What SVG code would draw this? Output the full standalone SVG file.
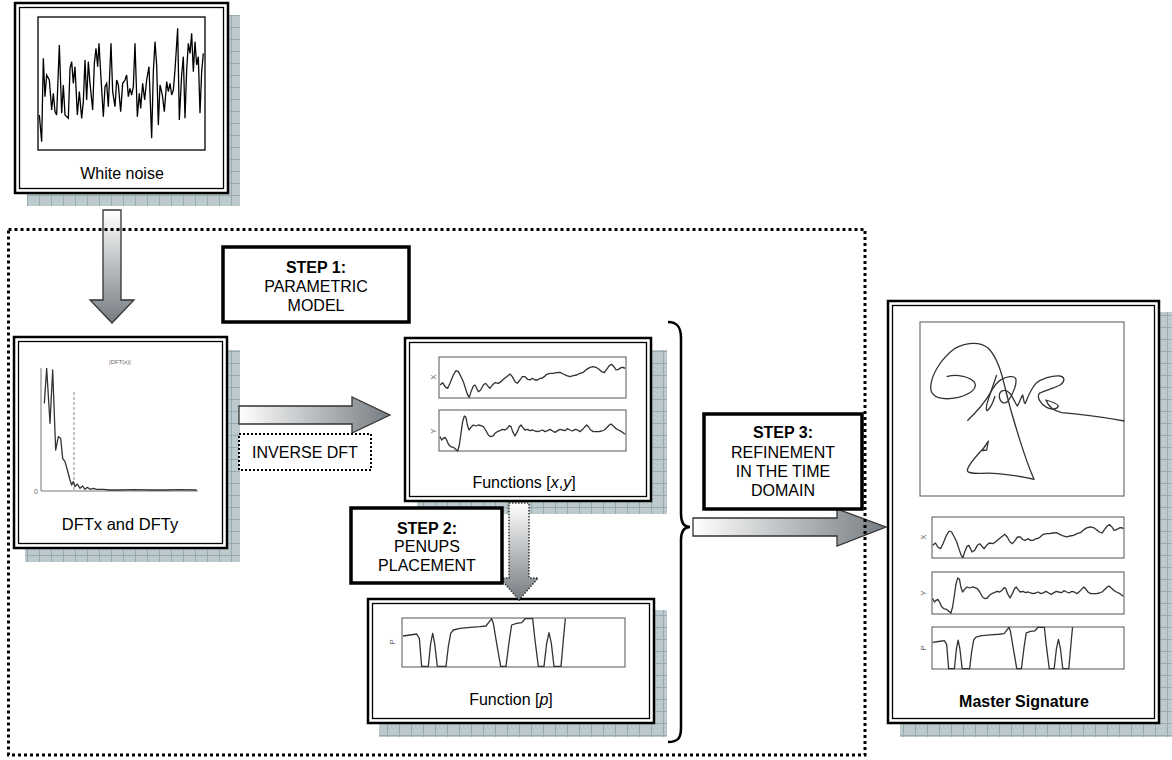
<svg xmlns="http://www.w3.org/2000/svg" width="1172" height="760" viewBox="0 0 1172 760">
<style>
.sh{fill:url(#grid)}
.ob{fill:#fff;stroke:#000;stroke-width:2.5}
.ib{fill:none;stroke:#000;stroke-width:1.3}
.pf{fill:none;stroke:#555;stroke-width:1}
.cv{fill:none;stroke:#333;stroke-width:1.3;vector-effect:non-scaling-stroke;stroke-linejoin:round}
.nz{fill:none;stroke:#000;stroke-width:1.3;vector-effect:non-scaling-stroke;stroke-linejoin:miter}
.t{font-family:"Liberation Sans",Arial,sans-serif;font-size:16px;text-anchor:middle;fill:#000}
.b{font-weight:bold}
.step{fill:#fff;stroke:#000;stroke-width:3.5}
.ax{font-family:"Liberation Sans",Arial,sans-serif;font-size:8px;fill:#666;text-anchor:middle}
.arr{stroke:#333;stroke-width:1.3;stroke-linejoin:miter}
</style>
<defs>
<pattern id="grid" width="12" height="12" patternUnits="userSpaceOnUse" x="3" y="3">
<rect width="12" height="12" fill="#bccacd"/>
<path d="M0 0.5H12M0.5 0V12" stroke="#9aabb0" stroke-width="1"/>
</pattern>
<linearGradient id="gv" x1="0" y1="0" x2="0" y2="1"><stop offset="0" stop-color="#ffffff"/><stop offset="1" stop-color="#757c81"/></linearGradient>
<linearGradient id="gh" x1="0" y1="0" x2="1" y2="0"><stop offset="0" stop-color="#ffffff"/><stop offset="1" stop-color="#757c81"/></linearGradient>
<path id="cx" class="cv" d="M135,165 L143,158 150,170 158,175 165,160 175,135 183,122 190,125 198,140 205,155 213,180 218,195 223,202 228,185 235,168 240,165 245,175 250,185 257,180 265,165 272,160 280,170 285,175 292,165 300,158 310,160 318,155 325,148 335,140 345,132 352,140 360,155 367,160 375,150 382,140 390,140 398,148 405,150 412,145 420,150 428,150 435,145 440,145 448,140 455,133 465,130 475,130 485,128 495,127 505,132 515,137 525,140 535,137 545,135 555,130 565,127 575,118 585,112 595,110 605,113 612,118 620,125 628,128 635,118 643,107 650,103 657,110 663,120 670,118 678,113 685,112 690,115"/>
<path id="cy" class="cv" d="M135,320 L140,330 145,325 150,322 155,330 160,342 167,350 175,352 182,358 188,363 193,345 198,310 203,275 208,258 213,262 217,285 222,300 228,292 235,285 243,288 250,285 258,287 265,290 272,300 280,315 287,320 294,318 300,310 307,305 315,302 322,298 330,300 337,295 343,287 348,290 353,305 360,318 367,305 373,290 378,285 383,292 390,300 398,298 405,302 413,300 420,303 428,305 435,303 442,300 450,305 458,302 465,298 473,303 480,307 488,302 495,298 502,300 510,302 517,296 525,300 532,303 540,298 547,300 555,305 563,298 570,290 575,285 580,290 587,300 595,305 603,305 612,305 620,303 628,300 635,293 643,285 648,282 655,288 662,295 670,300 680,305 690,313"/>
<path id="cp" class="cv" d="M489,408 L510,405 530,402 538,415 545,499 565,499 572,430 578,400 584,430 592,499 618,499 625,440 632,400 640,390 660,385 690,382 720,380 738,378 748,365 755,356 760,370 770,430 782,499 798,499 808,420 815,375 830,370 845,368 852,360 856,356 878,356 885,420 895,499 912,499 920,430 927,398 934,430 942,499 963,499 970,420 976,356"/>
</defs>
<rect width="1172" height="760" fill="#fff"/>

<g id="white-noise">
<rect class="sh" x="27" y="15" width="213" height="191"/>
<rect class="ob" x="15" y="3" width="213" height="190"/>
<rect class="ib" x="19.5" y="7.5" width="204" height="181"/>
<rect x="38" y="17" width="167" height="133" fill="none" stroke="#000" stroke-width="1.3"/>
<polyline class="nz" transform="scale(0.33333)" points="118,345 125,425 130,175 135,290 140,225 148,240 155,330 160,280 165,335 170,345 178,135 185,340 190,255 195,345 205,355 210,205 215,185 220,250 225,200 232,345 238,275 245,355 250,305 255,180 260,300 265,185 270,250 278,330 283,190 288,145 293,200 297,130 303,235 310,350 315,260 320,250 325,320 333,130 338,275 345,320 350,240 355,255 362,335 368,250 375,240 380,225 385,290 390,265 395,285 400,260 405,130 412,350 418,280 422,325 428,250 434,300 440,240 447,200 455,415 460,215 465,125 470,195 475,375 480,255 487,285 493,335 500,245 505,275 510,250 515,285 520,270 525,210 533,85 538,360 545,225 550,170 555,355 560,210 565,130 570,160 575,100 580,215 585,125 590,195 595,170 600,340 605,215 610,160"/>
<text class="t" x="122" y="179">White noise</text>
</g>

<g id="dft">
<rect class="sh" x="25" y="350" width="215" height="212"/>
<rect class="ob" x="14" y="337" width="213" height="211"/>
<rect class="ib" x="18.5" y="341.5" width="204" height="202"/>
<path d="M41,368 V491 H198" fill="none" stroke="#777" stroke-width="1"/>
<path d="M74,392 V491" fill="none" stroke="#888" stroke-width="1" stroke-dasharray="3 2"/>
<polyline class="cv" transform="translate(0,330) scale(0.33333)" points="133,220 140,115 150,280 158,120 167,360 175,320 182,325 188,385 195,395 202,420 210,450 215,465 220,455 225,470 232,462 240,475 248,468 255,478 262,472 270,478 280,475 290,478 310,478 330,480 360,480 400,479 450,480 500,480 540,479 590,480"/>
<text class="ax" x="120" y="364" style="font-size:6px">|DFT(x)|</text>
<text class="ax" x="38" y="494" style="font-size:7px;text-anchor:end">0</text>
<text class="t" x="120" y="530" style="font-size:16.5px">DFTx and DFTy</text>
</g>

<g id="functions-xy">
<rect class="sh" x="417" y="350" width="250" height="164"/>
<rect class="ob" x="405" y="338" width="246" height="163"/>
<rect class="ib" x="409.5" y="342.5" width="237" height="154"/>
<rect class="pf" x="439" y="357" width="187" height="41"/>
<rect class="pf" x="439" y="410" width="187" height="41"/>
<use href="#cx" transform="translate(395,330) scale(0.33333)"/>
<use href="#cy" transform="translate(395,330) scale(0.33333)"/>
<text class="ax" transform="translate(436,377) rotate(-90)">X</text>
<text class="ax" transform="translate(436,431) rotate(-90)">Y</text>
<text class="t" x="524" y="488">Functions [<tspan font-style="italic">x</tspan>,<tspan font-style="italic">y</tspan>]</text>
</g>

<g id="function-p">
<rect class="sh" x="379" y="610" width="288" height="127"/>
<rect class="ob" x="368" y="599" width="286" height="124"/>
<rect class="ib" x="372.5" y="603.5" width="277" height="115"/>
<rect class="pf" x="402" y="618" width="223" height="49"/>
<use href="#cp" transform="translate(240,500) scale(0.33333)"/>
<text class="ax" transform="translate(395,642) rotate(-90)">P</text>
<text class="t" x="511" y="705">Function [<tspan font-style="italic">p</tspan>]</text>
</g>

<g id="master-signature">
<rect class="sh" x="900" y="312" width="272" height="425"/>
<rect class="ob" x="888" y="301" width="271" height="422"/>
<rect class="ib" x="892.5" y="305.5" width="262" height="413"/>
<rect class="pf" x="920" y="322" width="204" height="174"/>
<path class="cv" transform="translate(880,280) scale(0.33333)" d="M200,290 C230,282 265,288 282,305 C295,322 275,342 235,352 C190,362 150,355 152,320 C155,280 185,235 225,205 C255,188 300,182 325,205 C345,225 360,260 372,310 C385,365 400,420 418,475 C435,530 450,570 462,598 C440,592 400,585 340,580 C300,578 265,585 262,572 C262,555 290,528 310,505 L325,483 L320,510 L306,512 L318,495"/>
<path class="cv" transform="translate(880,280) scale(0.33333)" d="M262,422 C285,400 310,375 330,340 C340,322 350,305 365,298 C380,290 400,286 407,295 C412,310 400,340 385,362 C375,375 360,368 358,350 C357,332 372,325 388,338 C398,348 405,370 412,378 C418,370 424,350 428,345 C432,360 432,372 436,370 C442,355 450,330 468,310 C485,296 515,286 540,288 C556,292 555,305 540,315 C520,326 495,330 478,340 C470,352 480,370 500,382 C515,390 532,388 535,378 C532,370 515,365 498,360 C505,380 520,392 545,398 C575,400 620,403 733,423"/>
<path class="cv" transform="translate(880,280) scale(0.33333)" d="M350,285 C342,310 330,340 322,368 C318,380 318,392 322,392 C330,385 340,365 345,348"/>
<rect class="pf" x="932" y="517" width="192" height="41"/>
<rect class="pf" x="932" y="572" width="192" height="42"/>
<rect class="pf" x="932" y="627" width="192" height="42"/>
<use href="#cx" transform="translate(886.32,490.33) scale(0.3435,0.33333)"/>
<use href="#cy" transform="translate(886.32,492) scale(0.3435,0.33333)"/>
<use href="#cp" transform="translate(792.03,524.16) scale(0.2874,0.2897)"/>
<text class="ax" transform="translate(926,537) rotate(-90)">X</text>
<text class="ax" transform="translate(926,593) rotate(-90)">Y</text>
<text class="ax" transform="translate(926,648) rotate(-90)">P</text>
<text class="t b" x="1024" y="707">Master Signature</text>
</g>

<g id="connectors">
<polygon class="arr" fill="url(#gv)" points="103,210 121,210 121,300 134,300 112,323 90,300 103,300"/>
<polygon class="arr" fill="url(#gh)" points="239,406 352,406 352,397 390,415 352,433 352,424 239,424"/>
<polygon fill="url(#gv)" stroke="#333" stroke-width="1.5" stroke-dasharray="1.5 1.5" points="509,503 529,503 529,578 538,578 519,600 500,578 509,578"/>
<polygon class="arr" fill="url(#gh)" points="693,518 837,518 837,509 886,527 837,546 837,536 693,536"/>
<path d="M668,322 C678,322 681,328 681,338 L681,514 C681,523 684,527 690,527 C684,527 681,531 681,540 L681,728 C681,738 678,742 668,742" fill="none" stroke="#000" stroke-width="2.5"/>
</g>

<g id="frame">
<rect x="8.5" y="229.5" width="856.5" height="525.5" fill="none" stroke="#000" stroke-width="3" stroke-dasharray="3 3"/>
</g>

<g id="step1">
<rect class="step" x="223" y="247" width="186" height="75"/>
<text class="t b" x="316" y="273">STEP 1:</text>
<text class="t" x="316" y="292">PARAMETRIC</text>
<text class="t" x="316" y="311">MODEL</text>
</g>

<g id="inverse-dft">
<rect x="239" y="434" width="132" height="36" fill="#fff" stroke="#000" stroke-width="2" stroke-dasharray="2 2"/>
<text class="t" x="305" y="458">INVERSE DFT</text>
</g>

<g id="step2">
<rect class="step" x="351" y="508" width="151" height="75"/>
<text class="t b" x="427" y="534">STEP 2:</text>
<text class="t" x="427" y="552">PENUPS</text>
<text class="t" x="427" y="571">PLACEMENT</text>
</g>

<g id="step3">
<rect class="step" x="704" y="414" width="158" height="95"/>
<text class="t b" x="783" y="438">STEP 3:</text>
<text class="t" x="783" y="458">REFINEMENT</text>
<text class="t" x="783" y="477">IN THE TIME</text>
<text class="t" x="783" y="496">DOMAIN</text>
</g>
</svg>
